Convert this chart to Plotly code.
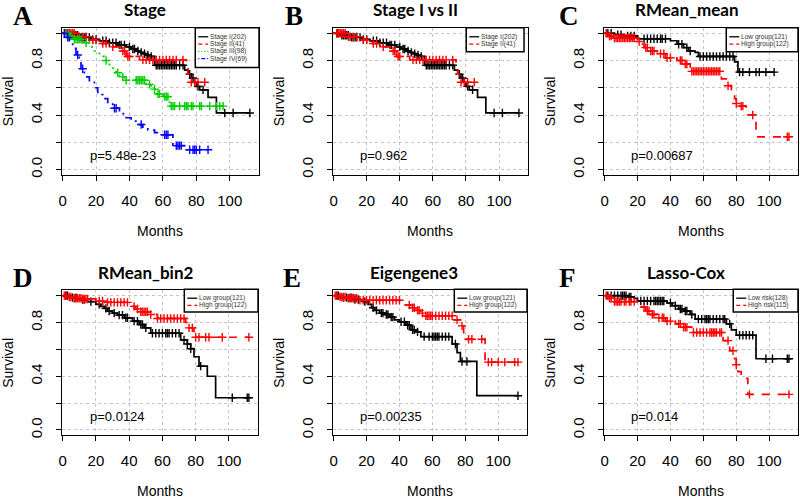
import plotly.graph_objects as go

W, H = 800, 499

# ---- data (months, survival) ----
stage1_t = [0, 4, 10, 17, 22, 27, 33, 38, 41, 44, 46, 48, 50, 52, 55, 73, 75, 77, 79, 80, 82, 87, 92]
stage1_s = [1.0, 0.985, 0.97, 0.955, 0.945, 0.93, 0.915, 0.9, 0.885, 0.87, 0.86, 0.85, 0.84, 0.83,
            0.765, 0.73, 0.7, 0.67, 0.64, 0.61, 0.585, 0.53, 0.415]
stage1_c = [2, 3, 5, 6, 7, 8, 9, 11, 12, 13, 14, 16, 18, 20, 24, 26, 28, 30, 32, 34, 35, 37, 40, 42,
            43, 45, 47, 49, 51, 53, 56, 57, 58, 59, 60, 61, 62, 63, 64, 65, 66, 67, 68, 70, 72, 76,
            78, 81, 84, 97, 102, 112]

stage2_t = [0, 8, 15, 22, 28, 34, 38, 46, 74, 75, 76]
stage2_s = [1.0, 0.975, 0.95, 0.925, 0.9, 0.87, 0.83, 0.805, 0.75, 0.7, 0.64]
stage2_c = [2, 3, 4, 5, 6, 7, 9, 10, 12, 14, 18, 20, 24, 26, 30, 36, 37, 39, 40, 48, 50, 52, 54, 56,
            58, 60, 62, 64, 66, 68, 72, 77, 79, 81, 85]

stage3_t = [0, 3, 6, 12, 16, 19, 22, 25, 28, 30, 32, 34, 37, 50, 53, 56, 60, 64]
stage3_s = [1.0, 0.98, 0.955, 0.93, 0.9, 0.87, 0.83, 0.8, 0.77, 0.745, 0.71, 0.68, 0.655, 0.625,
            0.59, 0.555, 0.535, 0.465]
stage3_c = [2, 4, 5, 7, 8, 9, 10, 11, 14, 26, 33, 36, 38, 44, 45, 46, 47, 48, 49, 52, 55, 57, 58,
            61, 62, 63, 65, 66, 67, 70, 73, 74, 75, 77, 78, 82, 83, 88, 92, 94, 96]

stage4_t = [0, 2, 4, 6, 8, 10, 11, 13, 16, 19, 21, 24, 27, 30, 34, 38, 41, 45, 48, 51, 55, 58, 66, 74]
stage4_s = [1.0, 0.97, 0.93, 0.89, 0.84, 0.81, 0.74, 0.68, 0.64, 0.6, 0.55, 0.52, 0.48, 0.45, 0.41,
            0.38, 0.355, 0.33, 0.31, 0.29, 0.27, 0.255, 0.175, 0.145]
stage4_c = [1, 3, 9, 12, 31, 32, 47, 61, 62, 63, 68, 69, 70, 71, 76, 78, 79, 80, 82, 87]

c_low_t = [0, 6, 12, 20, 40, 44, 48, 51, 55, 57, 79, 81]
c_low_s = [1.0, 0.99, 0.98, 0.96, 0.945, 0.92, 0.895, 0.87, 0.86, 0.83, 0.79, 0.715]
c_low_c = [2, 4, 8, 10, 14, 16, 18, 24, 26, 28, 30, 32, 34, 35, 37, 45, 47, 50, 52, 58, 60, 62, 64,
           66, 68, 70, 72, 74, 76, 78, 82, 84, 88, 92, 94, 98, 103]
c_high_t = [0, 2, 5, 20, 22, 24, 27, 32, 37, 44, 48, 52, 71, 74, 77, 79, 80, 82, 86, 92]
c_high_s = [1.0, 0.98, 0.965, 0.94, 0.92, 0.895, 0.87, 0.85, 0.82, 0.8, 0.775, 0.72, 0.665, 0.615,
            0.555, 0.52, 0.485, 0.465, 0.4, 0.24]
c_high_c = [1, 3, 4, 6, 7, 8, 9, 10, 11, 12, 13, 14, 15, 16, 17, 18, 21, 25, 26, 28, 29, 30, 34, 36,
            38, 40, 46, 47, 49, 50, 53, 54, 55, 56, 57, 58, 59, 60, 61, 62, 63, 64, 65, 66, 67, 68,
            69, 70, 75, 80, 83, 84, 90, 111, 112]

d_low_t = [0, 5, 10, 15, 20, 23, 25, 27, 30, 33, 37, 42, 46, 49, 53, 71, 75, 77, 79, 82, 87, 92]
d_low_s = [1.0, 0.985, 0.97, 0.955, 0.935, 0.92, 0.905, 0.885, 0.87, 0.855, 0.835, 0.81, 0.785,
           0.76, 0.72, 0.67, 0.64, 0.605, 0.545, 0.475, 0.4, 0.24]
d_low_c = [2, 3, 6, 8, 12, 13, 17, 22, 26, 28, 31, 34, 36, 38, 39, 43, 45, 47, 48, 50, 54, 56, 58,
           60, 62, 63, 64, 66, 68, 70, 73, 75, 77, 83, 102, 111, 112]
d_high_t = [0, 3, 6, 12, 20, 25, 41, 44, 46, 52, 57, 74, 76, 79]
d_high_s = [1.0, 0.99, 0.98, 0.975, 0.96, 0.95, 0.92, 0.9, 0.88, 0.86, 0.83, 0.8, 0.76, 0.69]
d_high_c = [1, 2, 4, 5, 7, 8, 9, 10, 11, 12, 13, 14, 15, 22, 24, 27, 29, 31, 33, 35, 37, 39, 43,
            45, 47, 48, 49, 50, 51, 53, 57, 59, 61, 63, 65, 67, 69, 71, 73, 76, 78, 80, 82, 86, 88,
            96, 112]

e_low_t = [0, 4, 12, 18, 21, 23, 25, 28, 31, 34, 37, 40, 44, 47, 50, 53, 72, 75, 77, 87]
e_low_s = [1.0, 0.985, 0.97, 0.955, 0.935, 0.91, 0.89, 0.87, 0.86, 0.84, 0.82, 0.805, 0.78, 0.745,
           0.73, 0.695, 0.64, 0.575, 0.51, 0.255]
e_low_c = [2, 3, 6, 8, 10, 11, 13, 15, 19, 24, 26, 29, 30, 32, 33, 35, 36, 41, 43, 45, 46, 48, 49,
           51, 55, 58, 60, 61, 62, 63, 64, 66, 68, 70, 74, 78, 81, 112]
e_high_t = [0, 3, 8, 15, 42, 47, 50, 53, 55, 73, 77, 79, 81, 92]
e_high_s = [1.0, 0.99, 0.98, 0.965, 0.93, 0.91, 0.89, 0.87, 0.85, 0.82, 0.775, 0.715, 0.675, 0.505]
e_high_c = [1, 2, 4, 5, 6, 7, 9, 10, 11, 12, 13, 14, 16, 18, 20, 22, 24, 26, 28, 30, 32, 34, 36, 38,
            40, 46, 48, 49, 51, 52, 54, 56, 57, 58, 59, 60, 62, 64, 66, 68, 70, 72, 75, 78, 82, 84,
            90, 94, 96, 100, 104, 110, 112]

f_low_t = [0, 14, 18, 20, 38, 41, 45, 48, 52, 55, 74, 77, 80, 92]
f_low_s = [1.0, 0.99, 0.98, 0.96, 0.945, 0.925, 0.9, 0.885, 0.86, 0.825, 0.79, 0.745, 0.705, 0.53]
f_low_c = [2, 4, 6, 8, 10, 11, 12, 13, 15, 16, 22, 24, 26, 28, 30, 31, 32, 33, 34, 35, 36, 40, 43,
           46, 47, 49, 50, 53, 57, 59, 61, 62, 63, 64, 66, 68, 70, 72, 73, 76, 82, 84, 86, 88, 90,
           98, 102, 111, 112]
f_high_t = [0, 2, 5, 20, 22, 25, 28, 32, 37, 43, 47, 53, 72, 76, 79, 80, 81, 83, 87]
f_high_s = [1.0, 0.98, 0.955, 0.935, 0.915, 0.885, 0.86, 0.835, 0.81, 0.79, 0.765, 0.725, 0.665,
            0.59, 0.53, 0.485, 0.435, 0.385, 0.265]
f_high_c = [1, 3, 4, 6, 7, 8, 9, 10, 12, 13, 15, 16, 18, 24, 26, 27, 29, 30, 33, 35, 36, 38, 40, 45,
            46, 48, 49, 50, 54, 56, 58, 60, 62, 64, 65, 66, 67, 68, 70, 71, 75, 78, 80, 88, 112]

x_ticks = [0, 20, 40, 60, 80, 100]
y_ticks = [0.0, 0.2, 0.4, 0.6, 0.8, 1.0]
y_ticktext = ["0.0", "", "0.4", "", "0.8", ""]

# line styles (R lty 1..4 at lwd 2) and their small legend versions
BLACK = dict(color="black", dash="solid", key="solid")
RED = dict(color="#FF0000", dash="8px,8px", key="4px,3px")
GREEN = dict(color="#00CD00", dash="2px,5px", key="1px,2px")
BLUE = dict(color="#0000FF", dash="2px,5px,8px,5px", key="1px,2px,4px,2px")

panels = [
    dict(letter="A", title="Stage", p="p=5.48e-23",
         curves=[("Stage I(202)", stage1_t, stage1_s, stage1_c, BLACK),
                 ("Stage II(41)", stage2_t, stage2_s, stage2_c, RED),
                 ("Stage III(98)", stage3_t, stage3_s, stage3_c, GREEN),
                 ("Stage IV(69)", stage4_t, stage4_s, stage4_c, BLUE)]),
    dict(letter="B", title="Stage I vs II", p="p=0.962",
         curves=[("Stage I(202)", stage1_t, stage1_s, stage1_c, BLACK),
                 ("Stage II(41)", stage2_t, stage2_s, stage2_c, RED)]),
    dict(letter="C", title="RMean_mean", p="p=0.00687",
         curves=[("Low group(121)", c_low_t, c_low_s, c_low_c, BLACK),
                 ("High group(122)", c_high_t, c_high_s, c_high_c, RED)]),
    dict(letter="D", title="RMean_bin2", p="p=0.0124",
         curves=[("Low group(121)", d_low_t, d_low_s, d_low_c, BLACK),
                 ("High group(122)", d_high_t, d_high_s, d_high_c, RED)]),
    dict(letter="E", title="Eigengene3", p="p=0.00235",
         curves=[("Low group(121)", e_low_t, e_low_s, e_low_c, BLACK),
                 ("High group(122)", e_high_t, e_high_s, e_high_c, RED)]),
    dict(letter="F", title="Lasso-Cox", p="p=0.014",
         curves=[("Low risk(128)", f_low_t, f_low_s, f_low_c, BLACK),
                 ("High risk(115)", f_high_t, f_high_s, f_high_c, RED)]),
]

# pixel boxes of each panel: (left, right, top, bottom), title x, letter x, legend box
boxes = [(59, 257, 28, 176), (331, 527, 28, 176), (603, 798, 28, 176),
         (59, 256, 292, 438), (331, 526, 292, 438), (603, 798, 292, 438)]
title_x = [143, 414, 687, 144, 413, 686]
letter_x = [20, 292, 568, 20, 290, 567]
legend_box = [(193, 257, 28, 68), (465, 523, 28, 52), (726, 798, 28, 52),
              (182, 256, 291, 314), (453, 526, 291, 314), (733, 798, 291, 314)]

SANS = "Liberation Sans, Arial"


def px(x):
    return x / W


def py(y):
    return 1 - y / H


def surv_at(times, surv, t):
    val = surv[0]
    for ti, si in zip(times, surv):
        if ti <= t:
            val = si
    return val


fig = go.Figure()
annotations = []
shapes = []

for i, (panel, box) in enumerate(zip(panels, boxes)):
    n = "" if i == 0 else str(i + 1)
    xa, ya = "x" + n, "y" + n
    left, right, top, bottom = box

    for name, t, s, cens, sty in panel["curves"]:
        end = max(cens[-1], t[-1])
        fig.add_trace(go.Scatter(
            x=t + [end], y=s + [s[-1]], mode="lines", line_shape="hv",
            line=dict(color=sty["color"], dash=sty["dash"], width=1.7),
            xaxis=xa, yaxis=ya, showlegend=False, hoverinfo="skip"))
        fig.add_trace(go.Scatter(
            x=cens, y=[surv_at(t, s, c) for c in cens], mode="markers",
            marker=dict(symbol="cross-thin", size=6,
                        line=dict(color=sty["color"], width=1.4)),
            xaxis=xa, yaxis=ya, showlegend=False, hoverinfo="skip"))

    axis_common = dict(showline=True, mirror=True, linecolor="black", linewidth=1,
                       ticks="outside", ticklen=5, tickwidth=1, tickcolor="black",
                       showgrid=True, gridcolor="#c4c4c4", griddash="dot", gridwidth=1,
                       zeroline=False,
                       tickfont=dict(family=SANS, size=15, color="black"))
    fig.layout["xaxis" + n] = dict(axis_common, domain=[px(left), px(right)], anchor=ya,
                                   range=[-0.5, 117.5], tickvals=x_ticks,
                                   ticklabelstandoff=7)
    fig.layout["yaxis" + n] = dict(axis_common, domain=[py(bottom), py(top)], anchor=xa,
                                   range=[-0.04, 1.04], tickvals=y_ticks, ticktext=y_ticktext,
                                   tickangle=-90, ticklabelstandoff=8)

    cx = (left + right) / 2
    cy = (top + bottom) / 2
    annotations += [
        dict(x=px(cx), y=py(bottom + 56), text="Months", showarrow=False,
             xref="paper", yref="paper", xanchor="center", yanchor="middle",
             font=dict(family=SANS, size=14, color="black")),
        dict(x=px(left - 54), y=py(cy), text="Survival", showarrow=False, textangle=-90,
             xref="paper", yref="paper", xanchor="center", yanchor="middle",
             font=dict(family=SANS, size=14, color="black")),
        dict(x=px(title_x[i]), y=py(top - 18), text="<b>%s</b>" % panel["title"],
             showarrow=False, xref="paper", yref="paper", xanchor="center", yanchor="middle",
             font=dict(family="Lato, Open Sans", size=17, color="black")),
        dict(x=px(letter_x[i]), y=py(top - 12), text="<b>%s</b>" % panel["letter"],
             showarrow=False, xref="paper", yref="paper", xanchor="center", yanchor="middle",
             font=dict(family="Liberation Serif, Times New Roman", size=27, color="black")),
        dict(x=15, y=0.1, xref=xa, yref=ya, text=panel["p"], showarrow=False,
             xanchor="left", yanchor="middle",
             font=dict(family=SANS, size=13, color="black")),
    ]

    # hand-drawn legend box in the top right corner
    lx0, lx1, ly0, ly1 = legend_box[i]
    shapes.append(dict(type="rect", xref="paper", yref="paper",
                       x0=px(lx0), x1=px(lx1), y0=py(ly1), y1=py(ly0),
                       line=dict(color="black", width=1.5), fillcolor="white", layer="above"))
    for k, (name, t, s, cens, sty) in enumerate(panel["curves"]):
        ry = ly0 + 9 + k * 7.3
        shapes.append(dict(type="line", xref="paper", yref="paper",
                           x0=px(lx0 + 3), x1=px(lx0 + 13), y0=py(ry), y1=py(ry),
                           line=dict(color=sty["color"], width=1.3, dash=sty["key"]),
                           layer="above"))
        annotations.append(dict(x=px(lx0 + 14), y=py(ry), text=name, showarrow=False,
                                xref="paper", yref="paper", xanchor="left", yanchor="middle",
                                borderpad=0,
                                font=dict(family=SANS, size=6.6, color="#333333")))

fig.update_layout(
    width=W, height=H, margin=dict(l=0, r=0, t=0, b=0),
    paper_bgcolor="white", plot_bgcolor="white",
    annotations=annotations, shapes=shapes, showlegend=False,
)

fig.write_html("out.html", config={"displayModeBar": False},
               post_script="document.body.style.margin='0';")
